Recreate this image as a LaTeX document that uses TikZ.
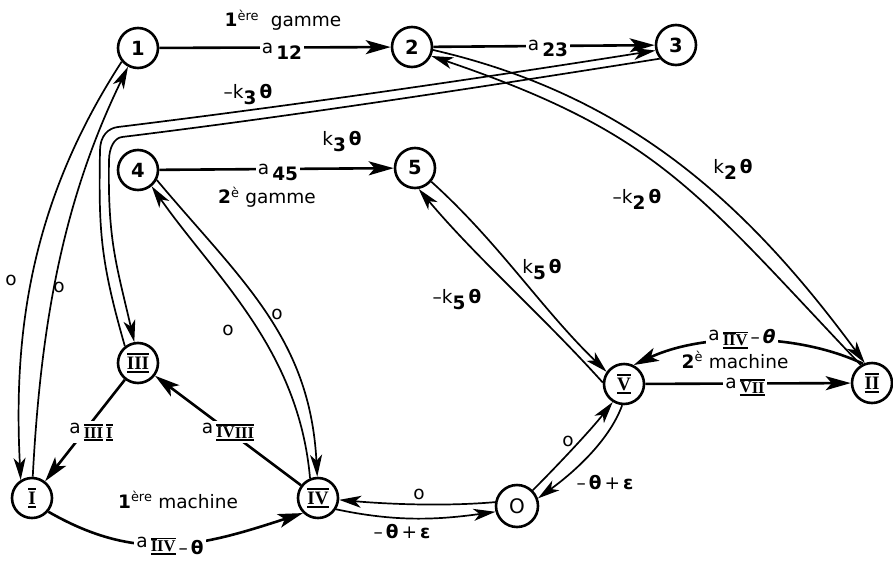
\documentclass[tikz,border=0pt]{standalone}
\usepackage{fontspec}
\setmainfont{DejaVu Sans}
\newfontfamily\romfont{Liberation Serif}
\usetikzlibrary{arrows.meta}

% roman numeral with a bar above and below
\newcommand\rn[1]{{\romfont\bfseries\setbox0=\hbox{#1}\vbox{\hrule height .11em\kern.07em\box0\kern.07em\hrule height .11em}}}
% lowered bold index
\newcommand\lw[1]{\raisebox{-6pt}{\bfseries #1}}
% lowered roman index
\newcommand\lr[1]{\raisebox{-8pt}{\fontsize{16.5}{16.5}\selectfont\rn{#1}}}

\begin{document}
\begin{tikzpicture}[x=1pt,y=1pt,
  st/.style={circle, draw, line width=2.6pt, minimum size=40pt, inner sep=0pt,
             font=\fontsize{19.5}{19.5}\selectfont\bfseries},
  rs/.style={st, font=\fontsize{19}{19}\selectfont},
  one/.style={line width=2.6pt, -{Stealth[length=25pt,width=14pt,inset=6pt]}},
  two/.style={line width=1.7pt, -{Stealth[length=22pt,width=12pt,inset=6pt]}},
  lab/.style={fill=white, inner sep=2pt, font=\fontsize{18.5}{20}\selectfont},
  txt/.style={inner sep=1pt, font=\fontsize{18.5}{20}\selectfont}]

\useasboundingbox (0,0) rectangle (893,-562);

% states
\node[st] (n1) at (138,-48) {1};
\node[st] (n2) at (412,-47) {2};
\node[st] (n3) at (676,-45) {3};
\node[st] (n4) at (138,-170) {4};
\node[st] (n5) at (415,-168) {5};
\node[rs] (nIII) at (138,-363) {\rn{III}};
\node[rs] (nI) at (32,-498) {\rn{I}};
\node[rs] (nIV) at (318,-498) {\rn{IV}};
\node[st, minimum size=42pt, font=\fontsize{20}{20}\selectfont] (nO) at (517,-506) {O};
\node[rs] (nV) at (624,-384) {\rn{V}};
\node[rs] (nII) at (872,-383) {\rn{II}};

% single arcs
\draw[one] (n1) -- (n2);
\draw[one] (n2) -- (n3);
\draw[one] (n4) -- (n5);
\draw[one] (nV) -- (nII);
\draw[one] (nIII) -- (nI);
\draw[one] (nIV) -- (nIII);
\draw[one] (nI.-40) .. controls +(-30:105pt) and +(198:105pt) .. (nIV.-135);
\draw[one] (nII.115) .. controls +(155:75pt) and +(25:75pt) .. (nV.63);

% paired arcs
\draw[two] (n1.-140) .. controls +(-123:165pt) and +(93:150pt) .. (nI.122);
\draw[two] (nI.88) .. controls +(87:150pt) and +(-116:150pt) .. (n1.-118);

\draw[two] (nIII.128) .. controls +(106:90pt) and +(-91:80pt) .. (100,-150)
  .. controls +(89:14pt) and +(186:10pt) .. (118,-127)
  .. controls +(7:180pt) and +(189:180pt) .. (n3.-165);
\draw[two] (n3.-140) .. controls +(189:180pt) and +(7:180pt) .. (122,-137)
  .. controls +(187:8pt) and +(89:12pt) .. (109,-160)
  .. controls +(-91:80pt) and +(103:80pt) .. (nIII.100);

\draw[two] (nIV.112) .. controls +(95:130pt) and +(-55:110pt) .. (n4.-50);
\draw[two] (n4.-28) .. controls +(-50:130pt) and +(93:140pt) .. (nIV.92);

\draw[two] (nV.176) .. controls +(132:90pt) and +(-50:90pt) .. (n5.-80);
\draw[two] (n5.-40) .. controls +(-42:90pt) and +(136:90pt) .. (nV.145);

\draw[two] (n2.-8) .. controls +(-13:200pt) and +(126.4:200pt) .. (nII.110);
\draw[two] (nII.122) .. controls +(133.5:240pt) and +(-18.8:240pt) .. (n2.-25);

\draw[two] (nO.45) .. controls +(45:35pt) and +(-128:35pt) .. (nV.-122);
\draw[two] (nV.-95) .. controls +(-110:40pt) and +(36:40pt) .. (nO.20);

\draw[two] (nO.170) .. controls +(185:50pt) and +(-5:50pt) .. (nIV.-5);
\draw[two] (nIV.-32) .. controls +(-12:60pt) and +(188:60pt) .. (nO.-165);

% labels on arcs
\node[lab] (l12) at (282,-51) {a\,\lw{12}};
\node[lab] (l23) at (548,-48) {a\,\lw{23}};
\node[lab] (l45) at (278,-172) {a\,\lw{45}};
\node[lab] (lVII) at (745,-387) {a\,\lr{V}\lr{II}};
\node[lab] (lIIII) at (91,-432) {a\,\lr{III}\,\lr{I}};
\node[lab] (lIVIII) at (228,-432) {a\,\lr{IV}\lr{III}};
\node[lab] (lIIV) at (170,-546) {a\,\raisebox{-7pt}{{\fontsize{16.5}{16.5}\selectfont\rn{I}\rn{IV}}\,–\,\textbf{θ}}};
\node[lab] (lIIVb) at (742,-339) {a\,\lr{II}\lr{V}\,\raisebox{-3pt}{–\,\textbf{\itshape θ}}};

\node[txt] (km3) at (248,-95) {–k\lw{3}\,\textbf{θ}};
\node[txt] (kp3) at (342,-142) {k\lw{3}\,\textbf{θ}};
\node[txt] (kp2) at (733,-169) {k\lw{2}\,\textbf{θ}};
\node[txt] (km2) at (637,-199) {–k\lw{2}\,\textbf{θ}};
\node[txt] (kp5) at (542,-270) {k\lw{5}\,\textbf{θ}};
\node[txt] (km5) at (457,-300) {–k\lw{5}\,\textbf{θ}};

\node[txt] (o1) at (11,-280) {o};
\node[txt] (o2) at (59,-287) {o};
\node[txt] (o3) at (228,-330) {o};
\node[txt] (o4) at (277,-314) {o};
\node[txt] (o5) at (419,-494) {o};
\node[txt] (o6) at (568,-441) {o};

\node[txt] (e1) at (402,-532) {–\,\textbf{θ}\,+\,\textbf{ε}};
\node[txt] (e2) at (605,-483) {–\,\textbf{θ}\,+\,\textbf{ε}};

% machine and range captions
\node[txt] (g1) at (283,-20) {\textbf{1}\textsuperscript{ère}\ \ gamme};
\node[txt] (g2) at (267,-197) {\textbf{2}\textsuperscript{è}\ gamme};
\node[txt] (m1) at (178,-500) {\textbf{1}\textsuperscript{ère}\ machine};
\node[txt] (m2) at (735,-360) {\textbf{2}\textsuperscript{è}\ machine};

\end{tikzpicture}
\end{document}
